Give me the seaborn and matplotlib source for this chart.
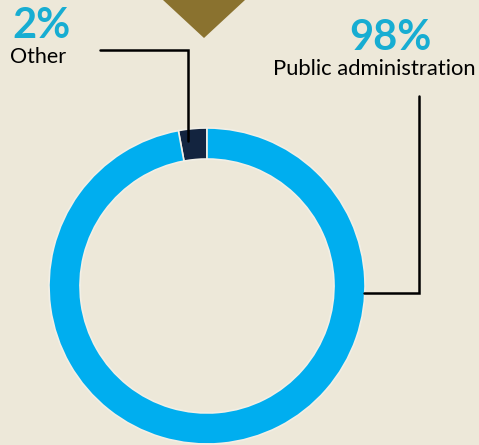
import matplotlib.pyplot as plt
import matplotlib.patches as mpatches
import seaborn as sns

# shares of the donut
sectors = ["Other", "Public administration"]
shares = [2.9, 97.1]
share_labels = ["2%", "98%"]
colors = ["#13243F", "#00AEEF"]

bg = "#EDE8D9"
teal = "#17ADD2"

sns.set_theme(style="white", rc={"figure.facecolor": bg, "axes.facecolor": bg})
plt.rcParams["font.family"] = ["Lato", "DejaVu Sans"]

W, H = 479, 445
fig = plt.figure(figsize=(W / 100, H / 100), dpi=100)
ax = fig.add_axes([0, 0, 1, 1])

# donut, pixel coordinates with y pointing up
cx, cy, r = 207, H - 286, 158
ax.pie(shares, colors=colors, startangle=90, counterclock=True,
       radius=r, center=(cx, cy), frame=True,
       wedgeprops=dict(width=31, edgecolor="#F2EFE6", linewidth=1.2))

# olive marker at the top
tri = mpatches.Polygon([(163, H), (245, H), (204, H - 38)], closed=True,
                       color="#8A722F", lw=0)
ax.add_patch(tri)

# leader lines
ax.plot([100, 188, 188], [H - 50, H - 50, H - 141], color="black", lw=1.8,
        solid_joinstyle="miter")
ax.plot([419, 419, 364], [H - 96, H - 293, H - 293], color="black", lw=1.8,
        solid_joinstyle="miter")

# labels
ax.text(12, H - 38, share_labels[0], color=teal, fontsize=30, fontweight="bold",
        ha="left", va="baseline")
ax.text(10, H - 63, sectors[0], color="black", fontsize=15.5,
        ha="left", va="baseline")
ax.text(390, H - 50, share_labels[1], color=teal, fontsize=30, fontweight="bold",
        ha="center", va="baseline")
ax.text(374, H - 75, sectors[1], color="black", fontsize=15.8,
        ha="center", va="baseline")

ax.set_xlim(0, W)
ax.set_ylim(0, H)
ax.set_aspect("equal")
ax.axis("off")

fig.savefig("out.png", dpi=100, facecolor=bg)
